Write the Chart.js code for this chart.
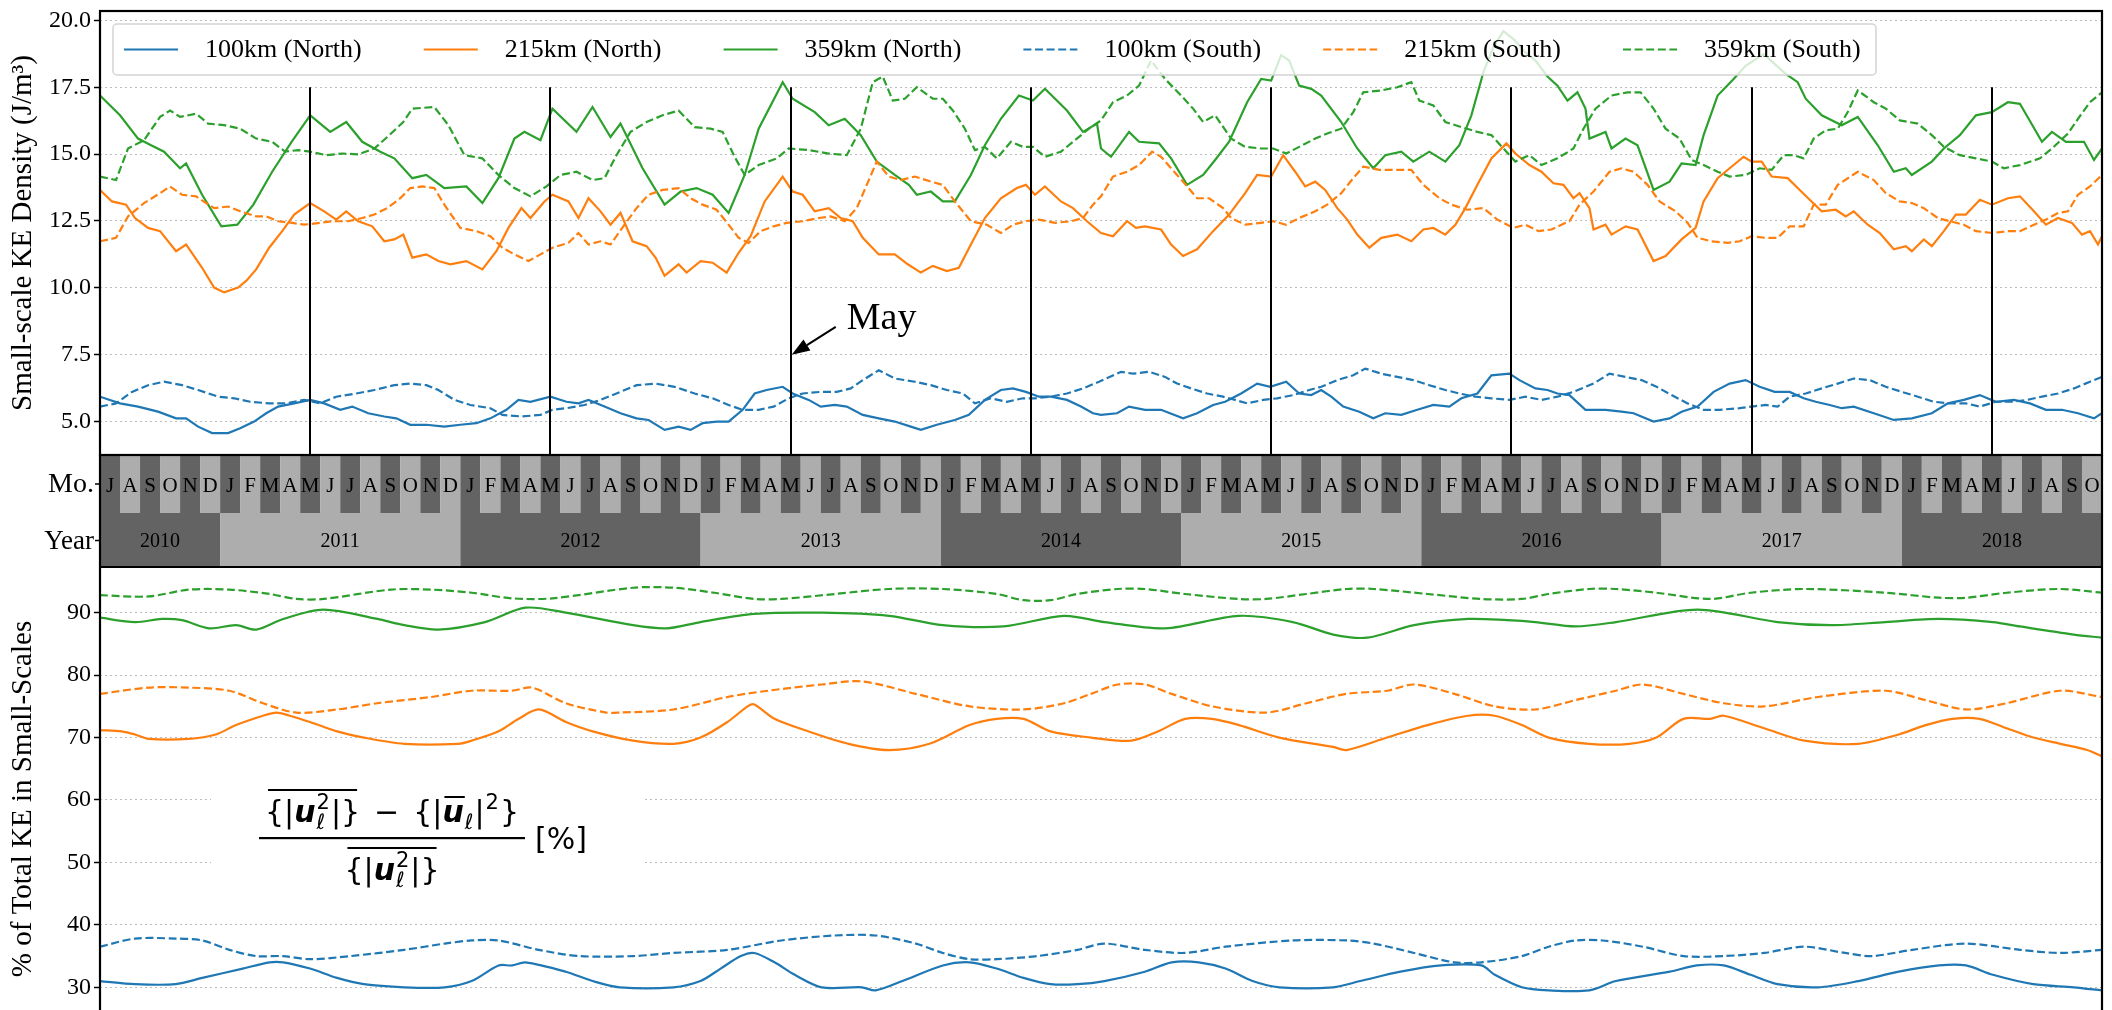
<!DOCTYPE html>
<html><head><meta charset="utf-8">
<script src="https://cdn.jsdelivr.net/npm/chart.js@4"></script>
<style>
html,body{margin:0;padding:0;background:#fff;overflow:hidden;width:2112px;height:1010px;}
#c1{position:absolute;left:0;top:0;width:2112px;height:568px;}
#c2{position:absolute;left:0;top:560px;width:2112px;height:470px;}
</style></head><body>
<canvas id="c1" width="2112" height="568"></canvas>
<canvas id="c2" width="2112" height="470"></canvas>
<script>
// ---------- DATA (x = months since 1 July 2010) ----------
const monthLetters = ['J','F','M','A','M','J','J','A','S','O','N','D'];
const years = [2010,2011,2012,2013,2014,2015,2016,2017,2018];
const topTicks = [5,7.5,10,12.5,15,17.5,20];
const bottomTicks = [30,40,50,60,70,80,90];
const mayLines = [10.5,22.5,34.5,46.5,58.5,70.5,82.5,94.5];
const mayLineTop = 17.5;
const mayArrowTail = [36.75, 8.54];
const mayArrowTip = [34.5, 7.5];
const mayTextPos = [37.3, 8.47];
const seriesLabels = ['100km (North)','215km (North)','359km (North)','100km (South)','215km (South)','359km (South)'];

// Top panel: small-scale KE density (J/m^3)
const keN100 = [[0,5.93],[1,5.68],[1.9,5.56],[2.9,5.37],[3.8,5.12],[4.3,5.12],[4.9,4.81],[5.6,4.57],[6.4,4.57],[7,4.75],[7.7,5.0],[8.3,5.31],[8.9,5.56],[9.7,5.68],[10.5,5.81],[11.2,5.68],[12,5.44],[12.6,5.56],[13.4,5.31],[14.2,5.19],[14.8,5.12],[15.5,4.88],[16.3,4.88],[17.2,4.81],[18,4.88],[18.8,4.94],[19.5,5.12],[20.3,5.44],[20.9,5.81],[21.5,5.74],[22.5,5.93],[23.3,5.74],[23.9,5.68],[24.4,5.81],[25.2,5.56],[26,5.31],[26.8,5.12],[27.4,5.06],[28.2,4.69],[28.9,4.81],[29.5,4.69],[30.1,4.94],[30.8,5.0],[31.4,5.0],[32.1,5.44],[32.7,6.05],[33.3,6.18],[34.1,6.30],[34.6,6.05],[35.4,5.81],[36,5.56],[36.7,5.62],[37.3,5.56],[38.1,5.25],[38.9,5.12],[39.7,5.0],[40.5,4.81],[41,4.69],[41.8,4.88],[42.7,5.06],[43.4,5.25],[44.2,5.81],[45,6.18],[45.6,6.24],[46.25,6.11],[46.9,5.93],[47.5,5.93],[48.3,5.81],[49,5.56],[49.6,5.31],[50,5.25],[50.8,5.31],[51.4,5.56],[52.2,5.44],[53,5.44],[54.1,5.12],[54.8,5.31],[55.6,5.62],[56.2,5.74],[57,6.05],[57.8,6.42],[58.45,6.30],[59.25,6.49],[59.9,6.05],[60.5,5.99],[61,6.18],[61.5,5.93],[62.1,5.56],[62.9,5.37],[63.6,5.12],[64.2,5.31],[65,5.25],[65.8,5.44],[66.6,5.62],[67.4,5.56],[68,5.87],[68.8,6.05],[69.5,6.73],[70.4,6.79],[70.9,6.55],[71.7,6.24],[72.3,6.18],[72.8,6.05],[73.4,5.99],[74.2,5.44],[75.2,5.44],[76,5.37],[76.6,5.31],[77.6,5.0],[78.4,5.12],[79,5.37],[79.8,5.56],[80.6,6.11],[81.4,6.42],[82.2,6.55],[82.9,6.30],[83.65,6.11],[84.4,6.11],[85.1,5.87],[85.7,5.74],[86.4,5.62],[87,5.50],[87.6,5.56],[88.6,5.31],[89.6,5.06],[90.5,5.12],[91.5,5.31],[92.3,5.68],[93.1,5.81],[93.9,5.99],[94.7,5.74],[95.6,5.81],[96.4,5.68],[97.2,5.44],[98,5.44],[98.8,5.31],[99.6,5.12],[100,5.31]];
const keN215 = [[0,13.66],[0.6,13.23],[1.3,13.11],[1.75,12.61],[2.4,12.24],[3,12.12],[3.8,11.37],[4.3,11.62],[5.1,10.75],[5.7,10.01],[6.2,9.83],[6.9,10.01],[7.3,10.26],[7.8,10.69],[8.45,11.50],[9.1,12.12],[9.7,12.74],[10.5,13.17],[11.2,12.86],[11.8,12.55],[12.3,12.86],[12.9,12.49],[13.6,12.30],[14.2,11.74],[14.7,11.81],[15.15,11.99],[15.6,11.13],[16.3,11.25],[16.9,11.0],[17.5,10.88],[18.3,11.0],[19.1,10.69],[19.8,11.37],[20.4,12.24],[21.05,12.98],[21.5,12.61],[22.2,13.23],[22.6,13.48],[23.4,13.23],[23.9,12.61],[24.4,13.35],[25,12.86],[25.5,12.36],[26,12.80],[26.6,11.74],[27.3,11.56],[27.75,11.13],[28.2,10.45],[28.9,10.88],[29.3,10.57],[30,11.0],[30.6,10.94],[31.3,10.57],[31.9,11.31],[32.5,11.93],[33.2,13.23],[34.1,14.16],[34.6,13.60],[35.1,13.48],[35.7,12.86],[36.4,12.98],[37,12.61],[37.6,12.49],[38.1,11.87],[38.9,11.25],[39.7,11.25],[40.35,10.88],[41,10.57],[41.6,10.82],[42.3,10.63],[42.9,10.75],[43.5,11.62],[44.2,12.61],[45,13.35],[45.8,13.73],[46.25,13.85],[46.7,13.48],[47.2,13.79],[48,13.23],[48.6,12.98],[49.3,12.49],[50,12.05],[50.6,11.93],[51.3,12.49],[51.75,12.24],[52.2,12.30],[53,12.18],[53.5,11.62],[54.1,11.19],[54.8,11.44],[55.6,12.12],[56.4,12.74],[57.2,13.54],[57.8,14.22],[58.5,14.16],[59.1,14.96],[59.7,14.34],[60.2,13.79],[60.7,13.97],[61.2,13.66],[61.8,12.98],[62.3,12.55],[62.8,11.99],[63.4,11.50],[64,11.87],[64.8,11.99],[65.5,11.74],[66.1,12.18],[66.6,12.24],[67.2,11.99],[67.7,12.36],[68.2,12.98],[68.8,13.85],[69.5,14.84],[70.25,15.40],[70.7,15.02],[71.4,14.59],[72,14.34],[72.6,13.91],[73.1,13.85],[73.6,13.35],[73.9,13.54],[74.4,12.98],[74.6,12.18],[75.2,12.36],[75.5,11.99],[76.2,12.30],[76.8,12.18],[77.6,11.0],[78.2,11.19],[79,11.81],[79.7,12.24],[80.1,13.23],[80.8,14.10],[81.4,14.47],[82.1,14.90],[82.5,14.72],[83,14.72],[83.5,14.16],[84.3,14.10],[84.8,13.73],[85.4,13.29],[86,12.86],[86.7,12.92],[87.2,12.67],[87.6,12.86],[88.3,12.36],[88.9,12.05],[89.6,11.44],[90.2,11.56],[90.5,11.37],[91.1,11.81],[91.5,11.56],[92.1,12.12],[92.7,12.74],[93.2,12.74],[93.9,13.29],[94.5,13.11],[95.3,13.35],[95.9,13.42],[96.6,12.86],[97.2,12.36],[97.8,12.61],[98.5,12.43],[99,11.99],[99.4,12.12],[99.8,11.62],[100,11.93]];
const keN359 = [[0,17.19],[1,16.45],[1.9,15.58],[2.55,15.33],[3.2,15.09],[4,14.47],[4.3,14.65],[5.1,13.48],[6.06,12.30],[6.86,12.36],[7.66,13.11],[8.6,14.34],[9.57,15.46],[10.5,16.45],[11.5,15.83],[12.3,16.2],[13.1,15.46],[14,15.09],[14.7,14.84],[15.6,14.10],[16.3,14.22],[17.2,13.73],[18.3,13.79],[19.1,13.17],[19.9,14.10],[20.7,15.58],[21.2,15.83],[22,15.52],[22.6,16.70],[23.8,15.83],[24.6,16.76],[25.5,15.64],[26,16.14],[27.1,14.47],[28.2,13.11],[29,13.60],[29.8,13.73],[30.6,13.48],[31.4,12.80],[32.2,14.22],[32.9,15.95],[34.1,17.69],[34.6,17.07],[35.7,16.57],[36.4,16.08],[37.2,16.32],[38,15.71],[38.8,14.72],[39.7,14.22],[40.4,13.85],[40.8,13.48],[41.5,13.60],[42.1,13.23],[42.7,13.23],[43.5,14.22],[44.2,15.33],[45,16.32],[45.9,17.19],[46.6,17.00],[47.2,17.44],[48.3,16.63],[49.1,15.83],[49.8,16.14],[50,15.21],[50.5,14.90],[51.4,15.83],[51.9,15.46],[52.9,15.40],[53.5,14.84],[54.3,13.85],[55.1,14.22],[55.7,14.78],[56.4,15.46],[57.3,16.94],[58,17.81],[58.5,17.75],[59,18.7],[59.4,18.5],[59.9,17.56],[60.5,17.44],[61,17.19],[62,16.2],[62.8,15.21],[63.6,14.47],[64.2,14.96],[65,15.09],[65.6,14.72],[66.4,15.09],[67.2,14.72],[67.9,15.33],[68.5,16.45],[69.1,18.06],[69.6,19.0],[70.1,19.6],[70.6,19.3],[71.2,18.8],[71.7,18.5],[72.3,17.9],[72.8,17.56],[73.3,17.0],[73.8,17.31],[74.2,16.70],[74.4,15.58],[75.2,15.83],[75.5,15.21],[76.2,15.58],[76.8,15.33],[77.6,13.66],[78.4,13.97],[79,14.65],[79.7,14.59],[80.1,15.71],[80.8,17.19],[81.6,17.81],[82.2,18.3],[83.1,18.74],[83.6,18.4],[84.2,18.0],[84.8,17.69],[85.2,17.07],[86,16.45],[87,16.08],[87.8,16.39],[88.8,15.33],[89.6,14.34],[90.2,14.47],[90.5,14.22],[91.5,14.72],[92.1,15.21],[92.9,15.71],[93.7,16.45],[94.5,16.57],[95.3,16.94],[95.9,16.88],[97,15.46],[97.5,15.83],[98.2,15.46],[99.1,15.46],[99.6,14.78],[100,15.21]];
const keS100 = [[0,5.56],[0.8,5.68],[1.6,6.11],[2.4,6.36],[3.2,6.49],[4.1,6.36],[4.9,6.18],[5.9,5.93],[6.7,5.87],[7.5,5.74],[8.45,5.68],[9.25,5.68],[10.2,5.81],[11,5.68],[11.8,5.93],[12.8,6.05],[13.7,6.18],[14.7,6.36],[15.5,6.42],[16.3,6.36],[16.9,6.18],[17.7,5.81],[18.5,5.62],[19.5,5.50],[20.1,5.25],[21.05,5.19],[22,5.25],[22.6,5.44],[23.3,5.50],[24.2,5.62],[25,5.81],[25.8,6.05],[26.8,6.36],[27.75,6.42],[28.7,6.30],[29.7,6.05],[30.6,5.87],[31.4,5.62],[32.1,5.44],[32.9,5.44],[33.65,5.56],[34.4,5.87],[35.1,6.05],[36,6.11],[36.8,6.11],[37.5,6.24],[38.1,6.55],[38.9,6.92],[39.7,6.61],[40.7,6.49],[41.5,6.36],[42.3,6.18],[43.1,6.05],[43.7,5.68],[44.5,5.87],[45.3,5.74],[46.1,5.87],[46.7,5.87],[47.5,5.93],[48.3,6.05],[49.1,6.24],[49.9,6.49],[51,6.86],[51.6,6.79],[52.4,6.86],[53.2,6.67],[53.8,6.42],[54.5,6.24],[55.3,6.05],[56.1,5.93],[56.7,5.81],[57.3,5.68],[58.1,5.81],[58.8,5.87],[59.6,5.99],[60.4,6.18],[61,6.30],[61.8,6.55],[62.6,6.73],[63.2,6.98],[64,6.79],[64.8,6.67],[65.6,6.55],[66.4,6.36],[67.2,6.18],[67.9,6.05],[68.7,5.93],[69.5,5.87],[70.4,5.81],[71.2,5.93],[72,5.81],[72.8,5.93],[73.6,6.11],[74.6,6.42],[75.4,6.79],[76.2,6.67],[77,6.55],[77.75,6.30],[78.5,5.99],[79.3,5.68],[80.1,5.44],[80.9,5.44],[81.9,5.50],[82.5,5.56],[83.2,5.62],[83.8,5.56],[84.4,5.93],[85.2,6.05],[86,6.24],[86.8,6.42],[87.6,6.61],[88.4,6.55],[89.2,6.30],[90,6.11],[90.8,5.93],[91.6,5.74],[92.4,5.68],[93.2,5.68],[93.9,5.56],[94.7,5.74],[95.5,5.74],[96.25,5.81],[97,5.93],[97.8,6.05],[98.6,6.24],[99.4,6.49],[100,6.67]];
const keS215 = [[0,11.74],[0.8,11.87],[1.4,12.67],[2.2,13.17],[3,13.54],[3.5,13.79],[4.1,13.48],[4.8,13.42],[5.3,13.17],[5.7,12.98],[6.4,13.04],[7,12.86],[7.8,12.67],[8.3,12.67],[8.9,12.49],[9.6,12.43],[10.2,12.36],[11,12.43],[11.6,12.49],[12.4,12.49],[13.1,12.61],[13.7,12.74],[14.35,12.98],[15,13.35],[15.5,13.73],[16.1,13.79],[16.7,13.73],[17.2,13.11],[18,12.24],[18.8,12.12],[19.5,11.93],[20.1,11.50],[20.7,11.25],[21.4,11.0],[22,11.25],[22.6,11.50],[23.4,11.68],[23.9,12.05],[24.4,11.62],[25,11.74],[25.5,11.62],[26.2,12.36],[26.8,12.98],[27.4,13.48],[28.1,13.66],[28.9,13.73],[29.5,13.35],[30.1,13.11],[30.8,12.92],[31.4,12.36],[31.9,11.87],[32.4,11.68],[33,12.12],[33.65,12.30],[34.3,12.43],[35.1,12.49],[35.9,12.61],[36.5,12.67],[37.2,12.49],[37.8,12.98],[38.3,13.85],[38.8,14.72],[39.4,14.16],[40,14.03],[40.7,14.16],[41.5,13.97],[42.1,13.85],[42.7,13.23],[43.5,12.49],[44.3,12.36],[45,12.05],[45.6,12.36],[46.25,12.49],[46.9,12.55],[47.7,12.43],[48.5,12.49],[49.1,12.61],[49.6,13.11],[50,13.42],[50.6,14.16],[51.3,14.34],[51.9,14.59],[52.55,15.09],[53,14.90],[53.5,14.47],[54.1,13.97],[54.8,13.35],[55.4,13.35],[56.1,12.98],[56.5,12.61],[57.2,12.36],[58,12.43],[58.6,12.49],[59.25,12.36],[59.9,12.61],[60.7,12.86],[61.3,13.11],[62,13.54],[62.6,14.10],[63.1,14.53],[63.9,14.41],[64.7,14.41],[65.5,14.41],[66.1,13.85],[66.9,13.35],[67.5,13.11],[68.3,12.92],[69.1,12.98],[69.8,12.55],[70.6,12.24],[71.2,12.36],[71.85,12.12],[72.5,12.18],[73,12.36],[73.4,12.49],[73.9,13.11],[74.6,13.60],[75.4,14.34],[76,14.47],[76.6,14.34],[77.3,13.85],[77.9,13.23],[78.7,12.86],[79.3,12.43],[79.8,11.87],[80.5,11.74],[81.3,11.68],[81.9,11.74],[82.5,11.93],[83.2,11.87],[83.8,11.87],[84.4,12.30],[85.1,12.30],[85.6,13.11],[86.2,13.11],[86.8,13.85],[87.8,14.34],[88.6,14.03],[89.2,13.54],[89.9,13.23],[90.5,13.17],[91.1,12.98],[91.8,12.61],[92.4,12.49],[93.1,12.36],[93.7,12.12],[94.5,12.05],[95.3,12.12],[95.9,12.12],[96.6,12.36],[97.2,12.55],[97.8,12.80],[98.3,12.86],[98.8,13.48],[99.4,13.79],[100,14.22]];
const keS359 = [[0,14.16],[0.8,14.03],[1.4,15.21],[2.2,15.52],[3,16.39],[3.5,16.63],[4,16.39],[4.8,16.51],[5.4,16.14],[6.2,16.08],[7,15.95],[7.8,15.58],[8.6,15.46],[9.25,15.09],[9.9,15.15],[10.5,15.09],[11.3,14.96],[12.1,15.02],[12.9,14.99],[13.7,15.21],[14.35,15.64],[15.15,16.20],[15.6,16.70],[16.7,16.76],[17.4,16.08],[18.2,14.96],[19.1,14.84],[19.9,14.22],[20.7,13.73],[21.5,13.42],[22.3,13.79],[23,14.22],[23.8,14.34],[24.6,14.03],[25.2,14.10],[25.8,14.96],[26.5,15.83],[27.3,16.20],[28.1,16.45],[28.9,16.63],[29.7,16.01],[30.5,15.95],[31.1,15.83],[31.7,14.90],[32.2,14.22],[32.9,14.59],[33.8,14.84],[34.4,15.21],[35.4,15.15],[36.4,15.02],[37.3,14.96],[38,15.95],[38.6,17.69],[39.1,17.9],[39.6,17.0],[40.2,17.07],[40.8,17.5],[41.6,17.07],[42.1,17.07],[42.6,16.63],[43.2,15.95],[43.7,15.15],[44.2,15.27],[44.8,14.84],[45.5,15.46],[46.1,15.27],[46.6,15.27],[47.2,14.90],[48,15.09],[48.6,15.46],[49.4,15.95],[50,16.26],[50.6,16.94],[51.3,17.19],[51.9,17.56],[52.5,18.5],[53.2,17.81],[54,17.19],[54.6,16.70],[55.1,16.20],[55.7,16.45],[56.5,15.58],[57.2,15.27],[58,15.21],[58.6,15.21],[59.25,15.02],[59.9,15.27],[60.7,15.58],[61.3,15.77],[62,15.95],[62.6,16.57],[63.1,17.31],[64,17.38],[64.8,17.50],[65.5,17.69],[65.9,17.0],[66.6,16.82],[67.2,16.20],[68,16.01],[68.8,15.83],[69.5,15.71],[70.1,15.21],[70.7,14.72],[71.4,14.96],[72,14.59],[72.8,14.84],[73.6,15.21],[74.1,15.95],[74.7,16.70],[75.5,17.19],[76.3,17.31],[76.95,17.31],[77.6,16.70],[78.2,15.95],[78.9,15.58],[79.5,14.78],[80.1,14.59],[80.8,14.34],[81.4,14.16],[82.2,14.22],[82.9,14.47],[83.5,14.41],[84.1,14.96],[84.6,14.96],[85.1,14.84],[85.6,15.58],[86.2,15.89],[86.8,15.95],[87.3,16.57],[87.8,17.38],[88.6,16.94],[89.2,16.70],[89.9,16.26],[90.8,16.14],[91.5,15.71],[92.1,15.27],[92.9,14.96],[93.7,14.84],[94.5,14.72],[95.1,14.47],[95.9,14.59],[96.9,14.84],[97.5,15.21],[98.3,15.77],[98.8,16.32],[99.4,16.94],[100,17.31]];

// Bottom panel: % of total KE in small scales
const pctN100 = [[0,31],[1.75,30.5],[3.77,30.5],[5.11,31.5],[7.13,33],[8.47,34],[9.15,34],[10.49,33],[11.84,31.5],[13.18,30.5],[15.2,30],[17.22,30],[18.56,31],[19.91,33.5],[20.58,33.5],[21.25,34],[23.27,32.5],[24.61,31],[25.96,30],[28.65,30],[29.99,31],[31.0,33],[32.01,35],[32.68,35.5],[33.69,34],[34.7,32],[36.05,30],[38.06,30],[38.74,29.5],[40.08,31],[42.1,33.5],[43.44,34],[44.79,33],[46.13,31.5],[47.48,30.5],[48.82,30.5],[50.17,31],[52.19,32.5],[53.53,34],[54.88,34],[56.22,33],[57.57,31],[58.91,30],[61.6,30],[62.95,31],[64.96,32.5],[66.98,33.5],[69,33.5],[69.67,32],[71.02,30],[72.36,29.5],[74.38,29.5],[75.72,31],[78.41,32.5],[79.76,33.5],[81.1,33.5],[82.45,32],[83.79,30.5],[85.81,30],[87.83,31],[89.85,32.5],[91.86,33.5],[93.21,33.5],[94.55,32],[96.57,30.5],[98.59,30],[100,29.5]];
const pctN215 = [[0,71.2],[1.08,71],[1.75,70.5],[2.42,69.8],[4.44,69.8],[5.78,70.5],[6.79,72],[8.14,73.5],[8.81,74],[9.48,73.5],[10.49,72.5],[11.84,71],[13.18,70],[15.2,69],[17.89,69],[18.56,69.5],[19.91,71],[20.91,73],[21.92,74.5],[23.27,72.5],[24.61,71],[26.63,69.5],[28.65,69],[29.99,70],[31.34,72.5],[32.35,75],[32.68,75.3],[33.69,73],[35.37,71],[37.39,69],[39.41,68],[41.43,69],[43.44,72],[44.79,73],[46.13,73],[47.48,71],[49.5,70],[51.51,69.5],[52.86,71],[54.2,73],[55.55,73],[56.89,72],[58.91,70],[61.6,68.5],[62.27,68],[64.29,70],[66.31,72],[68.33,73.5],[69.67,73.5],[71.02,72],[72.36,70],[74.38,69],[76.4,69],[77.74,70],[79.09,73],[80.43,73],[81.1,73.5],[83.12,71.5],[85.14,69.5],[87.83,69],[89.85,70.5],[91.19,72],[92.54,73],[93.88,73],[95.23,71.5],[96.57,70],[97.92,69],[99.26,68],[100,67]];
const pctN359 = [[0,89.2],[1.75,88.5],[3.09,89],[4.1,88.8],[5.45,87.5],[6.79,88],[7.8,87.3],[9.15,89],[11.16,90.5],[13.85,89],[15.2,88],[16.9,87.3],[19.23,88.5],[21.25,90.8],[23.27,90],[26.63,88],[28.3,87.5],[29.99,88.5],[32.68,89.8],[36.05,90],[39.41,89.5],[42.1,88],[45.12,87.8],[48.15,89.5],[50.17,88.5],[53.2,87.5],[56.89,89.5],[59.58,88.5],[61.6,86.5],[63.3,86],[65.64,88],[68.33,89],[70.3,88.8],[71.69,88.5],[73.7,87.8],[75.72,88.5],[79.8,90.5],[83.79,88.5],[86.48,88],[89.17,88.5],[91.86,89],[94.55,88.5],[95.9,87.8],[98.59,86.5],[100,86]];
const pctS100 = [[0,36.5],[1.75,37.8],[3.77,37.8],[5.11,37.5],[6.46,36],[7.8,35],[9.15,35],[10.49,34.5],[12.51,35],[15.2,36],[17.22,37],[18.56,37.5],[19.91,37.5],[21.92,36],[23.94,35],[26.63,35],[28.65,35.5],[31.34,36],[34.03,37.5],[36.72,38.3],[38.74,38.3],[40.75,37],[42.1,35.5],[43.44,34.5],[44.79,34.5],[46.81,35],[48.82,36],[50.17,37],[52.19,36],[54.2,35.5],[56.22,36.5],[59.58,37.5],[62.27,37.5],[63.62,37],[65.64,35.5],[67.65,34],[69,34],[71.02,35],[72.36,36.5],[73.7,37.5],[75.05,37.5],[77.07,36.5],[79.09,35],[81.1,35],[83.12,35.5],[85.14,36.5],[87.16,35.5],[88.5,35],[90.52,36],[93.21,37],[95.9,36],[97.92,35.5],[100,36]];
const pctS215 = [[0,77],[2.42,78],[4.44,78],[6.46,77.5],[8.14,75.5],[9.82,74],[11.84,74.5],[13.85,75.5],[16.54,76.5],[18.56,77.5],[20.58,77.5],[21.59,78],[23.27,75.5],[25.29,74],[25.96,74],[28.65,74.5],[31.34,76.5],[33.36,77.5],[36.05,78.5],[38.06,79],[40.75,77],[43.44,75],[46.13,74.5],[48.15,75.5],[49.5,77],[50.84,78.5],[52.19,78.5],[53.53,77],[55.55,75],[58.24,74],[60.26,75.5],[62.27,77],[64.29,77.5],[65.64,78.5],[67.65,77],[69.67,75],[71.69,74.5],[73.7,76],[75.72,77.5],[77.07,78.5],[79.09,77],[81.1,75.5],[83.12,75],[85.81,76.5],[89.17,77.5],[91.19,76],[93.21,74.5],[95.23,75.5],[97.92,77.5],[100,76.5]];
const pctS359 = [[0,92.8],[2.42,92.6],[4.44,93.7],[6.46,93.7],[8.47,93],[9.82,92.2],[11.16,92.2],[14.53,93.7],[16.54,93.7],[18.56,93.2],[20.58,92.3],[22.6,92.3],[26.63,94],[28.65,94],[30.67,93.2],[32.68,92.2],[34.03,92.2],[36.72,93],[39.41,93.8],[42.1,93.8],[44.79,93],[46.13,92],[47.48,92],[48.82,93],[50.84,93.8],[52.19,93.8],[54.2,93],[56.89,92.2],[58.24,92.2],[60.26,93],[62.27,93.8],[63.62,93.8],[66.31,93],[69,92.2],[71.02,92.2],[72.36,93],[74.38,93.8],[75.72,93.8],[77.74,93.2],[80.43,92.2],[82.45,93.2],[85.14,93.8],[89.17,93.2],[91.86,92.4],[93.21,92.4],[95.23,93.2],[97.92,93.8],[100,93.2]];

// ---------- STYLE ----------
const SERIF = "'Liberation Serif','Times New Roman',serif";
const SANS = "'DejaVu Sans',sans-serif";
const COLORS = ['#1f77b4','#ff7f0e','#2ca02c','#1f77b4','#ff7f0e','#2ca02c'];
const DASH = [8,3.6];
const DARK = '#636363', LIGHT = '#adadad';

function makeSets(list, tension){
  return list.map((d,i)=>({
    label: seriesLabels[i],
    data: d.map(p=>({x:p[0], y:p[1]})),
    borderColor: COLORS[i], backgroundColor: COLORS[i],
    borderWidth: 2.2, borderDash: i>=3 ? DASH : [],
    pointRadius: 0, tension: tension, fill: false, order: 6-i
  }));
}

function yScale(min, max, ticks, fmt, title){
  return {
    type:'linear', min, max,
    afterBuildTicks: s => { s.ticks = ticks.map(v=>({value:v})); },
    afterFit: s => { s.width = 100; s.paddingTop = 0; s.paddingBottom = 0; },
    ticks: { font:{family:SERIF, size:24}, color:'#000', padding:3, callback: v => fmt(v) },
    grid: { color:'#bdbdbd', lineWidth:1, tickLength:6, tickColor:'#000', tickWidth:1.5 },
    border: { display:false, dash:[2,3] },
    title: { display:true, text:title, font:{family:SERIF, size:29}, color:'#000', padding:{top:6,bottom:0} }
  };
}

const xScale = { type:'linear', min:0, max:100, display:false };

// ---------- TOP CHART PLUGIN ----------
const topDeco = {
  id:'topDeco',
  afterDatasetsDraw(chart){
    const {ctx, chartArea:a, scales:{x,y}} = chart;
    ctx.save();
    ctx.strokeStyle='#000'; ctx.lineWidth=2;
    mayLines.forEach(m=>{
      const px = Math.round(x.getPixelForValue(m));
      ctx.beginPath(); ctx.moveTo(px, y.getPixelForValue(mayLineTop)); ctx.lineTo(px, a.bottom); ctx.stroke();
    });
    const tx = x.getPixelForValue(mayArrowTail[0]), ty = y.getPixelForValue(mayArrowTail[1]);
    const hx = x.getPixelForValue(mayArrowTip[0]) + 1, hy = y.getPixelForValue(mayArrowTip[1]);
    const ang = Math.atan2(hy-ty, hx-tx), L = 18, W = 6.5;
    const bx = hx - L*Math.cos(ang), by = hy - L*Math.sin(ang);
    ctx.lineWidth = 2;
    ctx.beginPath(); ctx.moveTo(tx,ty); ctx.lineTo(bx,by); ctx.stroke();
    ctx.fillStyle='#000';
    ctx.beginPath(); ctx.moveTo(hx,hy);
    ctx.lineTo(bx + W*Math.sin(ang), by - W*Math.cos(ang));
    ctx.lineTo(bx - W*Math.sin(ang), by + W*Math.cos(ang));
    ctx.closePath(); ctx.fill();
    ctx.font = "38px "+SERIF; ctx.textAlign='left'; ctx.textBaseline='alphabetic';
    ctx.fillText('May', x.getPixelForValue(mayTextPos[0]), y.getPixelForValue(mayTextPos[1]));
    // Legend
    const lx = a.left + 13, ly = a.top + 13, lw = 1763, lh = 51;
    ctx.fillStyle='rgba(255,255,255,0.8)'; ctx.strokeStyle='#d4d4d4'; ctx.lineWidth=1.5;
    ctx.beginPath(); ctx.roundRect(lx, ly, lw, lh, 4); ctx.fill(); ctx.stroke();
    ctx.font = "26px "+SERIF; ctx.textBaseline='middle'; ctx.fillStyle='#000';
    chart.data.datasets.forEach((d,i)=>{
      const ex = lx + 11 + i*299.8, ey = ly + lh/2;
      ctx.strokeStyle = d.borderColor; ctx.lineWidth = 2.2; ctx.setLineDash(d.borderDash);
      ctx.beginPath(); ctx.moveTo(ex, ey); ctx.lineTo(ex+54, ey); ctx.stroke();
      ctx.setLineDash([]);
      ctx.fillStyle='#000'; ctx.fillText(d.label, ex+81, ey+1);
    });
    ctx.restore();
  },
  afterDraw(chart){
    const {ctx, chartArea:a, scales:{x}} = chart;
    const bTop = a.bottom, bMid = a.bottom + 58, bBot = a.bottom + 113;
    ctx.save();
    ctx.beginPath(); ctx.rect(a.left, bTop, a.right-a.left, bBot-bTop); ctx.clip();
    years.forEach((yr,k)=>{
      const s = (yr-2010)*12 - 6;
      const x0 = x.getPixelForValue(s), x1 = x.getPixelForValue(s+12);
      ctx.fillStyle = k%2===0 ? DARK : LIGHT;
      ctx.fillRect(x0, bMid, x1-x0, bBot-bMid);
    });
    for(let i=-1;i<=100;i++){
      const x0 = x.getPixelForValue(i), x1 = x.getPixelForValue(i+1);
      ctx.fillStyle = (i%2===0) ? DARK : LIGHT;
      ctx.fillRect(x0, bTop, x1-x0, bMid-bTop);
    }
    ctx.fillStyle='#000'; ctx.textAlign='center'; ctx.textBaseline='middle';
    ctx.font = "21px "+SERIF;
    for(let i=-1;i<=100;i++){
      const c = x.getPixelForValue(i+0.5);
      ctx.fillText(monthLetters[((6+i)%12+12)%12], c, (bTop+bMid)/2+2);
    }
    ctx.font = "20px "+SERIF;
    years.forEach(yr=>{
      const s = Math.max(0,(yr-2010)*12 - 6), e = Math.min(100,(yr-2010)*12+6);
      ctx.fillText(String(yr), x.getPixelForValue((s+e)/2), (bMid+bBot)/2+1);
    });
    ctx.restore();
    ctx.save();
    ctx.fillStyle='#000'; ctx.textAlign='right'; ctx.textBaseline='middle';
    ctx.font = "28px "+SERIF; ctx.fillText('Mo.', a.left-6, (bTop+bMid)/2+1);
    ctx.font = "27px "+SERIF; ctx.fillText('Year', a.left-6, (bMid+bBot)/2+1);
    ctx.strokeStyle='#000'; ctx.lineWidth=1.5;
    ctx.beginPath();
    ctx.moveTo(a.left-5,(bTop+bMid)/2); ctx.lineTo(a.left,(bTop+bMid)/2);
    ctx.moveTo(a.left-5,(bMid+bBot)/2); ctx.lineTo(a.left,(bMid+bBot)/2);
    ctx.stroke();
    ctx.lineWidth=2.2;
    ctx.strokeRect(a.left, a.top, a.right-a.left, a.bottom-a.top);
    ctx.beginPath();
    ctx.moveTo(a.left, bTop); ctx.lineTo(a.left, bBot);
    ctx.moveTo(a.right, bTop); ctx.lineTo(a.right, bBot);
    ctx.moveTo(a.left-1, bBot-1); ctx.lineTo(a.right+1, bBot-1);
    ctx.stroke();
    ctx.restore();
  }
};

new Chart(document.getElementById('c1'), {
  type:'line',
  data:{ datasets: makeSets([keN100,keN215,keN359,keS100,keS215,keS359], 0) },
  options:{
    responsive:false, animation:false,
    layout:{ padding:{left:0,right:10,top:11,bottom:113} },
    plugins:{ legend:{display:false}, tooltip:{enabled:false} },
    scales:{ x:xScale, y:yScale(3.75, 20.35, topTicks, v=>v.toFixed(1), 'Small-scale KE Density (J/m³)') }
  },
  plugins:[topDeco]
});

// ---------- BOTTOM CHART ----------
function put(ctx, t, font, x, y, draw){
  ctx.font = font; const w = ctx.measureText(t).width;
  if(draw) ctx.fillText(t, x, y);
  return w;
}
const FR = "30px "+SANS, FB = "bold oblique 30px "+SANS, FS = "21px "+SANS, FSI = "oblique 21px "+SANS;
function termA(ctx, x, base, draw){
  let cx = x;
  cx += put(ctx,'{',FR,cx,base,draw);
  cx += put(ctx,'|',FR,cx,base,draw);
  cx += put(ctx,'u',FB,cx,base,draw);
  const w1 = put(ctx,'2',FS,cx+1,base-13,draw);
  const w2 = put(ctx,'ℓ',FSI,cx+1,base+7,draw);
  cx += Math.max(w1,w2)+2;
  cx += put(ctx,'|',FR,cx,base,draw);
  cx += put(ctx,'}',FR,cx,base,draw);
  if(draw){ ctx.fillRect(x+3, base-33, cx-x-6, 2); }
  return cx-x;
}
function termB(ctx, x, base, draw){
  let cx = x;
  cx += put(ctx,'{',FR,cx,base,draw);
  cx += put(ctx,'|',FR,cx,base,draw);
  const ux = cx;
  cx += put(ctx,'u',FB,cx,base,draw);
  if(draw){ ctx.fillRect(ux+2, base-26, cx-ux-1, 2); }
  cx += put(ctx,'ℓ',FSI,cx+1,base+7,draw)+2;
  cx += put(ctx,'|',FR,cx,base,draw);
  cx += put(ctx,'2',FS,cx+1,base-13,draw)+2;
  cx += put(ctx,'}',FR,cx,base,draw);
  return cx-x;
}
const bottomDeco = {
  id:'bottomDeco',
  beforeDatasetsDraw(chart){
    const {ctx} = chart;
    ctx.save(); ctx.fillStyle='#fff'; ctx.fillRect(211, 770-560, 432, 135); ctx.restore();
  },
  afterDraw(chart){
    const {ctx, chartArea:a} = chart;
    ctx.save();
    ctx.strokeStyle='#000'; ctx.lineWidth=2.2;
    ctx.beginPath();
    ctx.moveTo(a.left, a.top); ctx.lineTo(a.left, a.bottom+5);
    ctx.moveTo(a.right, a.top); ctx.lineTo(a.right, a.bottom+5);
    ctx.stroke();
    ctx.fillStyle='#000'; ctx.textAlign='left'; ctx.textBaseline='alphabetic';
    const cx = 392, lineY = 838-560;
    const numBase = lineY - 16, denBase = lineY + 42;
    const wA = termA(ctx,0,0,false), wB = termB(ctx,0,0,false);
    const gap = 14; ctx.font = FR; const wm = ctx.measureText('−').width;
    const wNum = wA + gap + wm + gap + wB;
    let nx = cx - wNum/2;
    termA(ctx, nx, numBase, true);
    put(ctx,'−',FR, nx+wA+gap, numBase, true);
    termB(ctx, nx+wA+gap+wm+gap, numBase, true);
    ctx.fillRect(cx - wNum/2 - 6, lineY-1, wNum+12, 2.2);
    termA(ctx, cx - wA/2, denBase, true);
    put(ctx,'[%]',FR, cx + wNum/2 + 16, lineY + 11, true);
    ctx.restore();
  }
};

new Chart(document.getElementById('c2'), {
  type:'line',
  data:{ datasets: makeSets([pctN100,pctN215,pctN359,pctS100,pctS215,pctS359], 0.3) },
  options:{
    responsive:false, animation:false,
    layout:{ padding:{left:0,right:10,top:8,bottom:0} },
    plugins:{ legend:{display:false}, tooltip:{enabled:false} },
    scales:{ x:xScale, y:yScale(23.16, 97.16, bottomTicks, v=>String(v), '% of Total KE in Small-Scales') }
  },
  plugins:[bottomDeco]
});
</script>
</body></html>
